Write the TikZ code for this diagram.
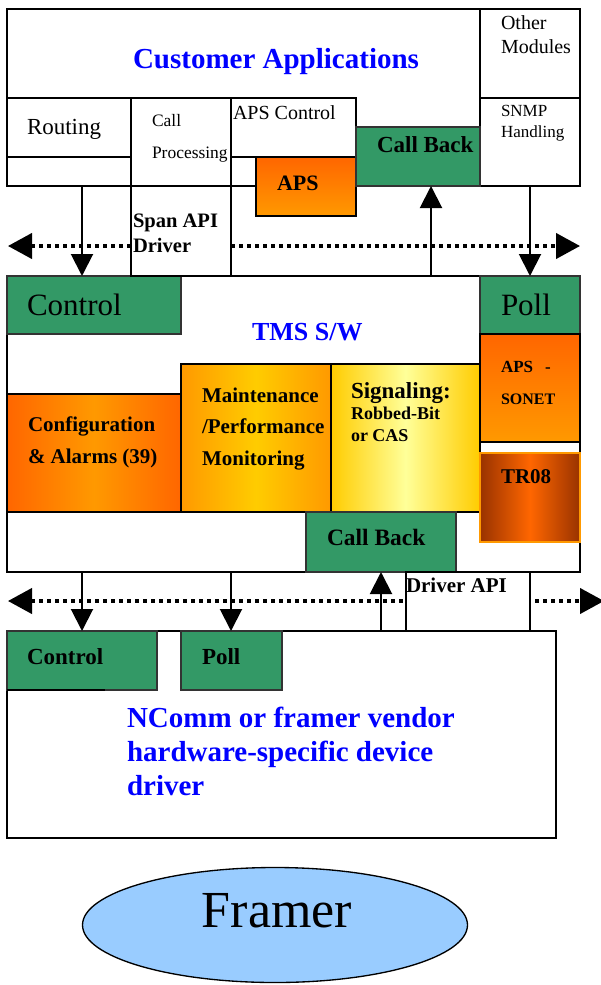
\documentclass[tikz,border=0pt]{standalone}
\usepackage{fontspec}
\setmainfont{Liberation Serif}
\usetikzlibrary{arrows.meta,shapes.geometric}
\definecolor{cgreen}{HTML}{339966}
\definecolor{cgrey}{HTML}{333333}
\definecolor{odark}{HTML}{FF6600}
\definecolor{olight}{HTML}{FF9900}
\definecolor{yel}{HTML}{FFCC00}
\definecolor{lyel}{HTML}{FFFF99}
\definecolor{brn}{HTML}{993300}
\definecolor{fblue}{HTML}{99CCFF}
\definecolor{tblue}{HTML}{0000FF}
\newcommand\bxn[6][]{\node[bx,#1,minimum width={(#4-#2)*0.75pt},minimum height={(#5-#3)*0.75pt}] (#6) at (#2,#3) {};}
\newcommand\lb[5][]{\node[lbl,#1] (#2) at (#3,#4) {#5};}
\newcommand\fz[1]{\fontsize{#1pt}{#1pt}\selectfont}
\tikzset{
  bx/.style={draw=black,line width=1.3pt,inner sep=0pt,outer sep=0pt,anchor=north west,fill=white},
  grn/.style={fill=cgreen,draw=cgrey},
  lbl/.style={inner sep=0pt,outer sep=0pt,anchor=base west},
  arr/.style={line width=1.5pt,-{Triangle[length=16.5pt,width=16.5pt]}},
  dotarr/.style={line width=2.3pt,dash pattern=on 3pt off 3pt,{Triangle[length=18pt,width=19pt]}-{Triangle[length=18pt,width=19pt]}}
}
\begin{document}
\begin{tikzpicture}[x=0.75pt,y=-0.75pt]
\useasboundingbox (0,0) rectangle (600,985);
% coordinates for connectors
\coordinate (xa) at (82,0);
\coordinate (xb) at (431,0);
\coordinate (xc) at (530,0);
\coordinate (xd) at (231,0);
\coordinate (xe) at (381,0);
\coordinate (d1l) at (8,246);
\coordinate (d1r) at (580,246);
\coordinate (d2l) at (8,601);
\coordinate (d2r) at (604,601);
% ---------- top: customer applications ----------
\bxn{7}{9}{580}{186}{cust}
\bxn{480}{9}{580}{98}{other}
\bxn{480}{98}{580}{186}{snmp}
\bxn{7}{98}{131}{157}{routing}
\bxn{131}{98}{231}{186}{callproc}
\bxn{231}{98}{356}{157}{apsctl}
\bxn[top color=odark,bottom color=olight]{256}{157}{356}{216}{aps}
\bxn[grn]{356}{127}{480}{186}{cbtop}
% ---------- middle: TMS ----------
\bxn{7}{276}{580}{572}{tms}
\bxn[grn]{7}{276}{181}{334}{ctrl}
\bxn[grn]{480}{276}{580}{334}{poll}
\bxn[left color=odark,right color=odark,middle color=olight]{7}{394}{181}{512}{conf}
\bxn[left color=olight,right color=olight,middle color=yel]{181}{364}{331}{512}{maint}
\bxn[left color=yel,right color=yel,middle color=lyel]{331}{364}{480}{512}{sig}
\bxn[top color=odark,bottom color=olight]{480}{334}{580}{442}{apsson}
\bxn[left color=brn,right color=brn,middle color=odark,draw=olight]{480}{453}{580}{542}{tr08}
\bxn[grn]{306}{512}{456}{572}{cbmid}
% ---------- bottom: driver ----------
\bxn{7}{631}{556}{838}{ncomm}
\bxn[grn]{7}{631}{157}{690}{ctrlb}
\bxn[grn]{181}{631}{282}{690}{pollb}
\draw[line width=1.3pt] (ctrlb.south west) -- ++(98,0);
% dotted API lines
\draw[dotarr] (d1l) -- (d1r);
\draw[dotarr] (d2l) -- (d2r);
\bxn{131}{186}{231}{276}{span}
\bxn{406}{572}{530}{631}{drvapi}
% arrows
\draw[arr] (cust.south -| xa) -- (ctrl.north -| xa);
\draw[arr] (tms.north -| xb) -- (cbtop.south -| xb);
\draw[arr] (snmp.south -| xc) -- (poll.north -| xc);
\draw[arr] (tms.south -| xa) -- (ctrlb.north -| xa);
\draw[arr] (tms.south -| xd) -- (pollb.north -| xd);
\draw[arr] (ncomm.north -| xe) -- (cbmid.south -| xe);
% framer
\node[ellipse,draw=black,line width=1pt,fill=fblue,minimum width={385*0.75pt},minimum height={115*0.75pt},inner sep=0pt] (framer) at (275,925) {};
% ---------- labels ----------
\lb[font=\bfseries\fz{21.75},text=tblue]{tca}{133}{68}{Customer Applications}
\lb[font=\fz{17.25}]{trout}{27}{134}{Routing}
\lb[font=\fz{13.1}]{tcall}{152}{126}{Call}
\lb[font=\fz{13.1}]{tproc}{152}{158}{Processing}
\lb[font=\fz{15}]{tapsc}{233}{119}{APS Control}
\lb[font=\bfseries\fz{16.5}]{taps}{277}{190}{APS}
\lb[font=\bfseries\fz{17.25}]{tcb1}{377}{152}{Call Back}
\lb[font=\fz{15}]{toth}{501}{29}{Other}
\lb[font=\fz{15}]{tmod}{501}{53}{Modules}
\lb[font=\fz{12.75}]{tsnmp}{501}{116}{SNMP}
\lb[font=\fz{12.75}]{thand}{501}{137}{Handling}
\lb[font=\bfseries\fz{15.4}]{tspan}{133}{227}{Span API}
\lb[font=\bfseries\fz{15.4}]{tdrv}{133}{252}{Driver}
\lb[font=\fz{23.25}]{tctrl}{27}{315}{Control}
\lb[font=\fz{23.25}]{tpoll}{501}{315}{Poll}
\lb[font=\bfseries\fz{19.5},text=tblue]{ttms}{252}{340}{TMS S/W}
\lb[font=\bfseries\fz{15.75}]{tconf}{28}{431}{Configuration}
\lb[font=\bfseries\fz{15.75}]{talrm}{28}{463}{\& Alarms (39)}
\lb[font=\bfseries\fz{15.75}]{tmnt}{202}{402}{Maintenance}
\lb[font=\bfseries\fz{15.75}]{tperf}{202}{433}{/Performance}
\lb[font=\bfseries\fz{15.75}]{tmon}{202}{465}{Monitoring}
\lb[font=\bfseries\fz{17.25}]{tsig}{351}{398}{Signaling:}
\lb[font=\bfseries\fz{13.5}]{trob}{351}{419}{Robbed-Bit}
\lb[font=\bfseries\fz{13.5}]{tcas}{351}{441}{or CAS}
\lb[font=\bfseries\fz{12.75}]{tapss}{501}{372}{APS\hspace{9pt}-}
\lb[font=\bfseries\fz{12}]{tson}{501}{404}{SONET}
\lb[font=\bfseries\fz{15.75}]{ttr}{501}{483}{TR08}
\lb[font=\bfseries\fz{17.6}]{tcb2}{327}{545}{Call Back}
\lb[font=\bfseries\fz{15.75}]{tdapi}{406}{592}{Driver API}
\lb[font=\bfseries\fz{17.25}]{tctrlb}{27}{664}{Control}
\lb[font=\bfseries\fz{17.25}]{tpollb}{202}{664}{Poll}
\lb[font=\bfseries\fz{21.75},text=tblue]{tnc1}{127}{727}{NComm or framer vendor}
\lb[font=\bfseries\fz{21.75},text=tblue]{tnc2}{127}{761}{hardware-specific device}
\lb[font=\bfseries\fz{21.75},text=tblue]{tnc3}{127}{795}{driver}
\node[inner sep=0pt,anchor=base,font=\fz{39}] (tfr) at (277,927) {Framer};
\end{tikzpicture}
\end{document}
